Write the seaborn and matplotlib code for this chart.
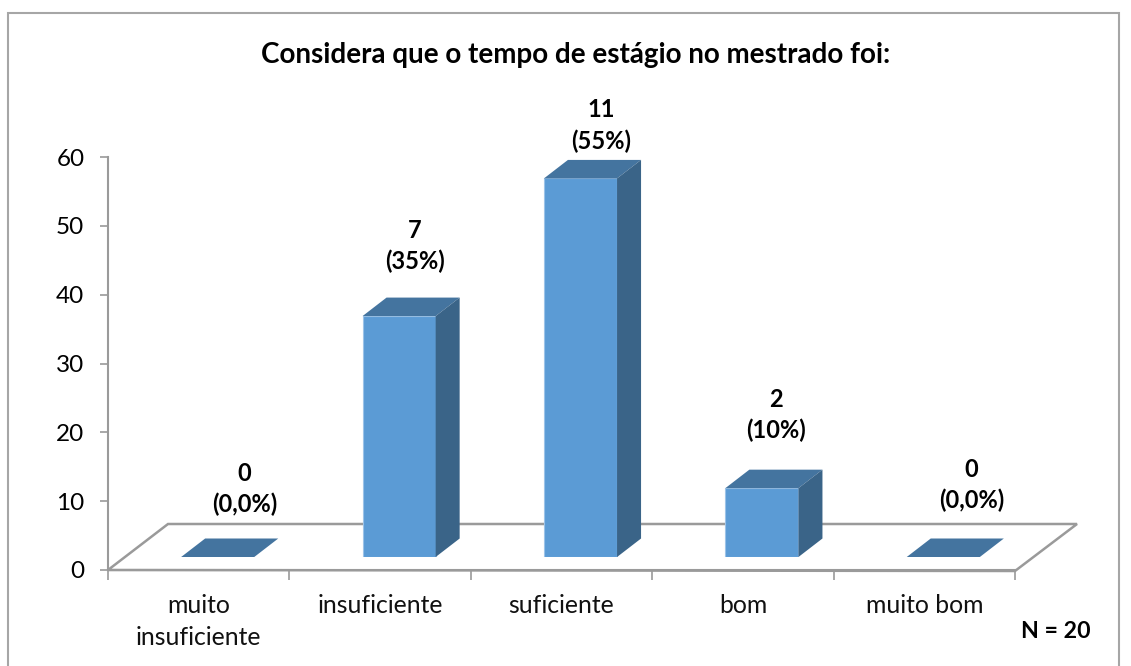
import numpy as np
import pandas as pd
import seaborn as sns
import matplotlib
matplotlib.use("Agg")
import matplotlib.pyplot as plt
from matplotlib.patches import Polygon, Rectangle
from matplotlib.transforms import IdentityTransform

categories = ["muito\ninsuficiente", "insuficiente", "suficiente", "bom", "muito bom"]
percent = [0, 35, 55, 10, 0]
counts = [0, 7, 11, 2, 0]
pct_text = ["(0,0%)", "(35%)", "(55%)", "(10%)", "(0,0%)"]
title = "Considera que o tempo de estágio no mestrado foi:"
note = "N = 20"

W, H = 1131, 666
sns.set_theme(style="white")
plt.rcParams["font.family"] = ["Lato", "DejaVu Sans"]
fig = plt.figure(figsize=(W / 100, H / 100), dpi=100, facecolor="white")

def box(l, t, r, b):
    return [l / W, 1 - b / H, (r - l) / W, (b - t) / H]

GRAY = "#9a9a9a"
FRONT, TOP, SIDE = "#5B9BD5", "#44749F", "#3A6488"
DX, DY = 24, 18.5

# page frame
fig.add_artist(Rectangle((7.5, -10), 1111.5, H - 13 + 10, transform=IdentityTransform(),
                         fill=False, ec="#a6a6a6", lw=1.5))

# axis frame: y 0-60, five category slots
ax = fig.add_axes(box(108, 157, 1015, 570))
ax.set_xlim(-0.5, 4.5)
ax.set_ylim(0, 60)
ax.set_yticks(range(0, 61, 10))
ax.set_xticks(np.arange(-0.5, 5, 1))
ax.set_xticklabels([])
ax.set_xticks(range(5), categories, minor=True)
for s in ("top", "right"):
    ax.spines[s].set_visible(False)
for s in ("left", "bottom"):
    ax.spines[s].set_color(GRAY)
    ax.spines[s].set_linewidth(1.5)
ax.tick_params(axis="y", which="major", left=True, length=6, width=1.2, color=GRAY,
               labelsize=17.5, labelcolor="black", pad=11)
ax.tick_params(axis="x", which="major", bottom=True, length=7, width=1.2, color=GRAY)
ax.tick_params(axis="x", which="minor", bottom=False, length=0, labelsize=17.8,
               labelcolor="#111111", pad=17)
for lab in ax.get_xticklabels(minor=True):
    lab.set_linespacing(1.5)
ax.patch.set_alpha(0)

# floor of the 3-D plot, in pixels
floor = [(108, H - 570), (168, H - 524), (1077, H - 524), (1015, H - 571)]
fig.add_artist(Polygon(floor, closed=True, fill=False, ec=GRAY, lw=1.8,
                       transform=IdentityTransform(), zorder=1))

# bars live on the same scale, on an axes shifted onto the floor
bx = fig.add_axes(box(127, 144, 1034, 557), zorder=3)
bx.patch.set_alpha(0)
df = pd.DataFrame({"cat": categories, "pct": percent})
sns.barplot(data=df, x="cat", y="pct", ax=bx, color=FRONT, saturation=1, width=0.403,
            edgecolor="#9cc3e8", linewidth=0.8, zorder=3)
bx.set_xlim(-0.5, 4.5)
bx.set_ylim(0, 60)
bx.axis("off")

label_off = [(27, 68), (16, 70), (21, 53), (14, 73), (28, 72)]
fig.canvas.draw()
for bar, n, p, off in zip(bx.patches, counts, pct_text, label_off):
    x0, y0 = bx.transData.transform((bar.get_x(), 0))
    x1, y1 = bx.transData.transform((bar.get_x() + bar.get_width(), bar.get_height()))
    topface = [(x0, y1), (x1, y1), (x1 + DX, y1 + DY), (x0 + DX, y1 + DY)]
    bx.add_patch(Polygon(topface, transform=IdentityTransform(), fc=TOP, ec="none", zorder=4))
    if y1 > y0:
        side = [(x1, y0), (x1, y1), (x1 + DX, y1 + DY), (x1 + DX, y0 + DY)]
        bx.add_patch(Polygon(side, transform=IdentityTransform(), fc=SIDE, ec="none", zorder=4))
    bx.annotate(f"{n}\n{p}", xy=((x0 + x1) / 2, y1), xycoords=IdentityTransform(),
                xytext=off, textcoords="offset pixels", ha="center", va="center",
                fontsize=17, fontweight="bold", color="black", linespacing=1.4,
                annotation_clip=False, zorder=6)

fig.text(576 / W, 1 - 55 / H, title, ha="center", va="center", fontsize=20,
         fontweight="bold", color="black")
fig.text(1056 / W, 1 - 632 / H, note, ha="center", va="center", fontsize=16.7,
         fontweight="bold", color="black")

fig.savefig("out.png", dpi=100)
